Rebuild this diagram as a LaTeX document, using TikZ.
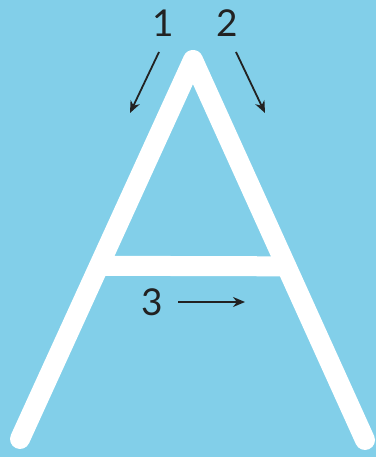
\documentclass[tikz,border=0pt]{standalone}
\usepackage{fontspec}
\setmainfont{Lato}
\usetikzlibrary{arrows.meta,calc}
\definecolor{skyblue}{HTML}{82CFE9}
\definecolor{inkgray}{HTML}{222222}

\begin{document}
\begin{tikzpicture}[x=1pt,y=1pt,
    stroke/.style={white,line width=20pt,line cap=round,line join=round},
    digit/.style={inkgray,font=\fontsize{37}{40}\selectfont,inner sep=0pt},
    hint/.style={inkgray,line width=1.8pt,-{Stealth[length=12pt,width=10pt]}}]
  \fill[skyblue] (0,0) rectangle (376,457);
  \useasboundingbox (0,0) rectangle (376,457);
  % letter A
  \coordinate (apex) at (193,397);
  \coordinate (footL) at (20,18);
  \coordinate (footR) at (365,17);
  \coordinate (barL) at ($(apex)!0.543!(footL)$);
  \coordinate (barR) at ($(apex)!0.543!(footR)$);
  \draw[stroke] (footL) -- (apex) -- (footR);
  \draw[stroke,line cap=butt] (barL) -- (barR);
  % stroke order
  \node[digit] (num1) at (163,434) {1};
  \node[digit] (num2) at (227,434) {2};
  \node[digit] (num3) at (152,155) {3};
  \coordinate (s1) at (159,405); \coordinate (e1) at (130,344);
  \coordinate (s2) at (236,405); \coordinate (e2) at (265,344);
  \coordinate (s3) at (178,155); \coordinate (e3) at (245,155);
  \draw[hint] (s1) -- (e1);
  \draw[hint] (s2) -- (e2);
  \draw[hint] (s3) -- (e3);
\end{tikzpicture}
\end{document}
